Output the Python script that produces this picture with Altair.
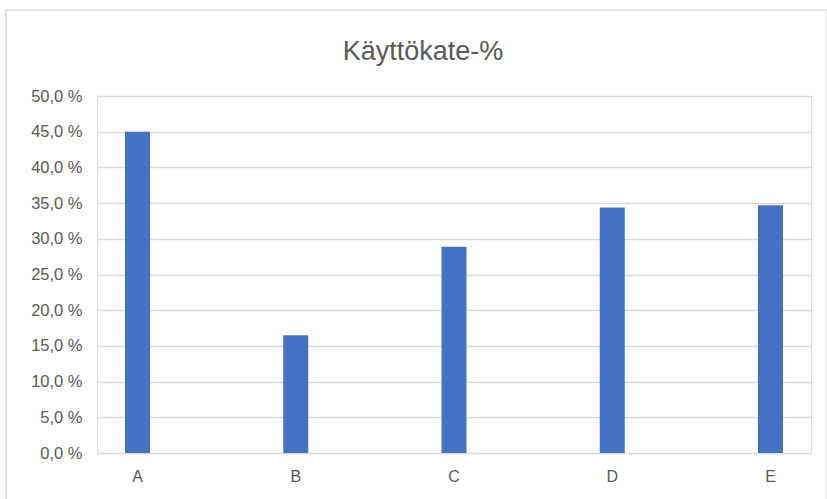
import altair as alt
import pandas as pd

# Käyttökate-% by unit
categories = ["A", "B", "C", "D", "E"]
margins = [0.450, 0.165, 0.289, 0.344, 0.347]

y_ticks = [0.0, 0.05, 0.10, 0.15, 0.20, 0.25, 0.30, 0.35, 0.40, 0.45, 0.50]

chart_title = "Käyttökate-%"

df = pd.DataFrame({"yksikko": categories, "kate": margins})
single = pd.DataFrame({"otsikko": [chart_title]})

FONT = "Liberation Sans"
GRID = "#d9d9d9"
TEXT = "#595959"

bars = alt.Chart(df).mark_bar(color="#4472C4").encode(
    x=alt.X(
        "yksikko:N",
        sort=categories,
        title=None,
        scale=alt.Scale(paddingInner=0.842, paddingOuter=0.177),
        axis=alt.Axis(
            labelAngle=0,
            ticks=False,
            domain=False,
            grid=False,
            labelPadding=15,
            labelFont=FONT,
            labelFontSize=16,
            labelColor=TEXT,
        ),
    ),
    y=alt.Y(
        "kate:Q",
        title=None,
        scale=alt.Scale(domain=[0, 0.5], nice=False),
        axis=alt.Axis(
            values=y_ticks,
            labelExpr="replace(format(datum.value * 100, '.1f'), '.', ',') + ' %'",
            ticks=False,
            domain=False,
            gridColor=GRID,
            gridWidth=1.3,
            labelPadding=15,
            labelFont=FONT,
            labelFontSize=16.5,
            labelColor=TEXT,
        ),
    ),
)

# light outline around the whole chart area
frame = alt.Chart(single).mark_rect(
    fill=None, stroke=GRID, strokeWidth=1.5
).encode(
    x=alt.value(-91), x2=alt.value(730),
    y=alt.value(-86), y2=alt.value(420),
)

# chart heading, centred over the whole frame
heading = alt.Chart(single).mark_text(
    font=FONT, fontSize=27, color=TEXT, align="center", baseline="alphabetic"
).encode(
    text="otsikko:N",
    x=alt.value(326),
    y=alt.value(-36),
)

chart = (
    alt.layer(frame, bars, heading)
    .properties(
        width=714,
        height=357,
        autosize=alt.AutoSizeParams(type="none"),
        padding={"left": 97, "top": 96, "right": 16, "bottom": 46},
    )
    .configure_view(stroke=None)
    .configure(background="white")
)

chart.save("out.html", embed_options={"renderer": "svg", "actions": False})
